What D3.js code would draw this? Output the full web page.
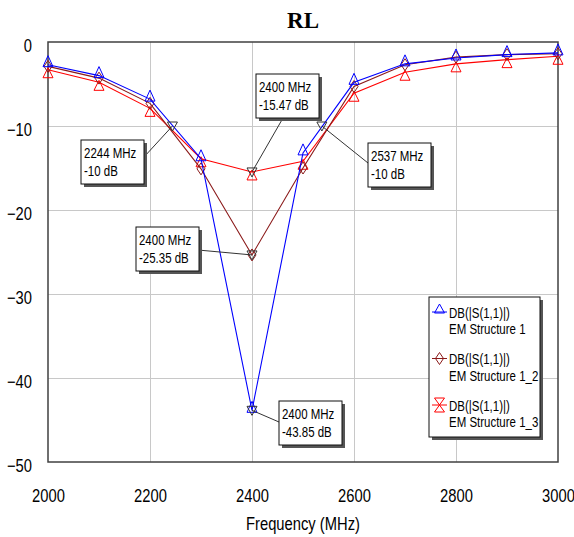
<!DOCTYPE html>
<html lang="en">
<head>
<meta charset="utf-8" />
<title>RL</title>
<style type="text/css">
	body { margin: 0; background: #fff; }
	text { font-family: "Liberation Sans", Arial, sans-serif; fill: #000; }
</style>
</head>
<body>
<div id="graph"></div>
<script src="https://d3js.org/d3.v7.min.js"></script>
<script type="text/javascript">
	// frequency points (MHz)
	var freqs = [2000, 2100, 2200, 2300, 2400, 2500, 2600, 2700, 2800, 2900, 3000];
	// DB(|S(1,1)|) for the three EM structures
	var s11_1 = [-2.7, -4.0, -6.8, -13.9, -43.85, -13.2, -4.8, -2.6, -1.9, -1.5, -1.3];
	var s11_2 = [-2.9, -4.3, -7.3, -15.1, -25.35, -15.0, -5.3, -2.7, -1.8, -1.5, -1.4];
	var s11_3 = [-3.3, -4.8, -7.9, -13.9, -15.47, -14.2, -6.1, -3.6, -2.6, -2.1, -1.7];
	var seriesNames = ["EM Structure 1", "EM Structure 1_2", "EM Structure 1_3"];

	// marker readouts
	var markerFreq = [2244, 2400, 2537, 2400, 2400];
	var markerDb = [-10, -15.47, -10, -25.35, -43.85];

	var xTicks = [2000, 2200, 2400, 2600, 2800, 3000];
	var yTicks = [0, -10, -20, -30, -40, -50];

	var W = 574, H = 537;
	var margin = { top: 42, right: 16, bottom: 75, left: 48 };
	var width = W - margin.left - margin.right,
		height = H - margin.top - margin.bottom;
	var NARROW = 0.82; // no Arial Narrow installed, squeeze Liberation Sans instead

	var svg = d3.select("#graph").append("svg")
		.attr("width", W)
		.attr("height", H);

	var xScale = d3.scaleLinear().domain([2000, 3000]).range([margin.left, margin.left + width]);
	var yScale = d3.scaleLinear().domain([-50, 0]).range([margin.top + height, margin.top]);

	// grid
	svg.append("g")
		.attr("class", "grid-x")
		.attr("transform", "translate(0," + (margin.top + height) + ")")
		.call(d3.axisBottom(xScale).tickValues(xTicks.slice(1, -1)).tickSize(-height).tickFormat(""))
		.call(g => g.select(".domain").remove())
		.selectAll("line").attr("stroke", "#c8c8c8");

	svg.append("g")
		.attr("class", "grid-y")
		.attr("transform", "translate(" + margin.left + ",0)")
		.call(d3.axisLeft(yScale).tickValues(yTicks.slice(1, -1)).tickSize(-width).tickFormat(""))
		.call(g => g.select(".domain").remove())
		.selectAll("line").attr("stroke", "#c8c8c8");

	// tick labels
	svg.append("g")
		.attr("class", "x axis")
		.attr("transform", "translate(0," + (margin.top + height) + ")")
		.call(d3.axisBottom(xScale).tickValues(xTicks).tickSize(0).tickPadding(27).tickFormat(d3.format("d")))
		.call(g => g.select(".domain").remove())
		.selectAll("text")
		.attr("font-size", 18);

	svg.append("g")
		.attr("class", "y axis")
		.attr("transform", "translate(" + margin.left + ",0)")
		.call(d3.axisLeft(yScale).tickValues(yTicks).tickSize(0).tickPadding(16))
		.call(g => g.select(".domain").remove())
		.selectAll("text")
		.attr("font-size", 18)
		.attr("dy", "0.53em");

	svg.selectAll(".axis").attr("font-family", null);

	// frame
	svg.append("rect")
		.attr("x", margin.left).attr("y", margin.top)
		.attr("width", width).attr("height", height)
		.attr("fill", "none")
		.attr("stroke", "#404040")
		.attr("stroke-width", 1.5);

	// title + x label
	svg.append("text")
		.attr("class", "title")
		.attr("x", xScale(2500)).attr("y", 28)
		.attr("text-anchor", "middle")
		.style("font-family", "'Liberation Serif', 'Times New Roman', serif")
		.attr("font-weight", "bold")
		.attr("font-size", 23)
		.text("RL");

	svg.append("text")
		.attr("x", xScale(2500)).attr("y", 530)
		.attr("text-anchor", "middle")
		.attr("font-size", 18)
		.text("Frequency (MHz)");

	// marker symbols
	const triUp = (x, y) => "M" + (x - 5) + "," + (y + 2) + "L" + x + "," + (y - 9) + "L" + (x + 5) + "," + (y + 2) + "Z";
	const triLow = (x, y) => "M" + (x - 5) + "," + (y + 8) + "L" + x + "," + (y - 2) + "L" + (x + 5) + "," + (y + 8) + "Z";
	const diamond = (x, y) => "M" + (x - 4) + "," + y + "L" + x + "," + (y - 6) + "L" + (x + 4) + "," + y + "L" + x + "," + (y + 6) + "Z";
	const hourglass = (x, y) => "M" + (x - 5) + "," + (y - 7) + "L" + (x + 5) + "," + (y - 7) + "L" + (x - 5) + "," + (y + 7) + "L" + (x + 5) + "," + (y + 7) + "Z";
	const triDown = (x, y) => "M" + (x - 5) + "," + (y - 4) + "L" + (x + 5) + "," + (y - 4) + "L" + x + "," + (y + 5) + "Z";

	var series = [
		{ name: seriesNames[0], values: s11_1, color: "#0000ff", sym: triUp, legSym: (x, y) => "M" + (x - 5) + "," + (y + 1) + "L" + x + "," + (y - 8) + "L" + (x + 5) + "," + (y + 1) + "Z" },
		{ name: seriesNames[1], values: s11_2, color: "#8b1a1a", sym: diamond, legSym: diamond },
		{ name: seriesNames[2], values: s11_3, color: "#ff0000", sym: triLow, legSym: hourglass }
	];

	var line = d3.line()
		.x((d, i) => xScale(freqs[i]))
		.y(d => yScale(d));

	series.slice().reverse().forEach(function (s) {
		var g = svg.append("g").attr("class", "series");
		g.append("path")
			.datum(s.values)
			.attr("d", line)
			.attr("fill", "none")
			.attr("stroke", s.color)
			.attr("stroke-width", 1.1);
		g.selectAll("path.mk")
			.data(s.values)
			.enter().append("path")
			.attr("class", "mk")
			.attr("d", (d, i) => s.sym(xScale(freqs[i]), yScale(d)))
			.attr("fill", "none")
			.attr("stroke", s.color)
			.attr("stroke-width", 1);
	});

	// readout boxes: offset of the box from its marker, and the leader end on the box
	var boxLayout = [
		{ dx: -91, dy: 14, lx: 63, ly: 17 },
		{ dx: 4, dy: -98, lx: 27, ly: 44 },
		{ dx: 46, dy: 17, lx: 0, ly: 20 },
		{ dx: -116, dy: -28, lx: 62, ly: 23 },
		{ dx: 27, dy: -9, lx: 0, ly: 21 }
	];
	var bw = 63, bh = 44;

	var ann = svg.selectAll("g.readout")
		.data(markerFreq.map((f, i) => ({ f: f, db: markerDb[i], lay: boxLayout[i] })))
		.enter().append("g")
		.attr("class", "readout");

	ann.each(function (d) {
		var g = d3.select(this);
		var mx = xScale(d.f), my = yScale(d.db);
		var bx = Math.round(mx + d.lay.dx), by = Math.round(my + d.lay.dy);
		g.append("line")
			.attr("x1", mx).attr("y1", my)
			.attr("x2", bx + d.lay.lx).attr("y2", by + d.lay.ly)
			.attr("stroke", "#333").attr("stroke-width", 1);
		g.append("path")
			.attr("d", triDown(mx, my))
			.attr("fill", "none").attr("stroke", "#333").attr("stroke-width", 1);
		g.append("rect")
			.attr("x", bx + 3).attr("y", by + 3)
			.attr("width", bw).attr("height", bh)
			.attr("fill", "#555");
		g.append("rect")
			.attr("x", bx).attr("y", by)
			.attr("width", bw).attr("height", bh)
			.attr("fill", "#fff").attr("stroke", "#111").attr("stroke-width", 1);
		g.append("text")
			.attr("x", bx + 3).attr("y", by + 18.5)
			.attr("font-size", 14)
			.text(d.f + " MHz");
		g.append("text")
			.attr("x", bx + 3).attr("y", by + 36.5)
			.attr("font-size", 14)
			.text(d.db + " dB");
	});

	// legend
	var legX = 429, legY = 297, legW = 111, legH = 140;
	var leg = svg.append("g").attr("class", "legend");
	leg.append("rect")
		.attr("x", legX + 3).attr("y", legY + 3)
		.attr("width", legW).attr("height", legH)
		.attr("fill", "#555");
	leg.append("rect")
		.attr("x", legX).attr("y", legY)
		.attr("width", legW).attr("height", legH)
		.attr("fill", "#fff").attr("stroke", "#111").attr("stroke-width", 1);

	series.forEach(function (s, i) {
		var base = legY + 21 + i * 46.5;
		var sy = base - 6;
		leg.append("line")
			.attr("x1", legX + 3).attr("x2", legX + 18)
			.attr("y1", sy).attr("y2", sy)
			.attr("stroke", s.color).attr("stroke-width", 1);
		leg.append("path")
			.attr("d", s.legSym(legX + 10.5, sy))
			.attr("fill", "none").attr("stroke", s.color).attr("stroke-width", 1);
		leg.append("text")
			.attr("x", legX + 20).attr("y", base)
			.attr("font-size", 14)
			.text("DB(|S(1,1)|)");
		leg.append("text")
			.attr("x", legX + 20).attr("y", base + 16.5)
			.attr("font-size", 14)
			.text(s.name);
	});

	// squeeze every text except the title horizontally around its anchor
	svg.selectAll("text").filter(function () { return !d3.select(this).classed("title"); })
		.attr("transform", function () {
			var x = +this.getAttribute("x") || 0;
			return "translate(" + x + ",0) scale(" + NARROW + ",1) translate(" + (-x) + ",0)";
		});
</script>
</body>
</html>
